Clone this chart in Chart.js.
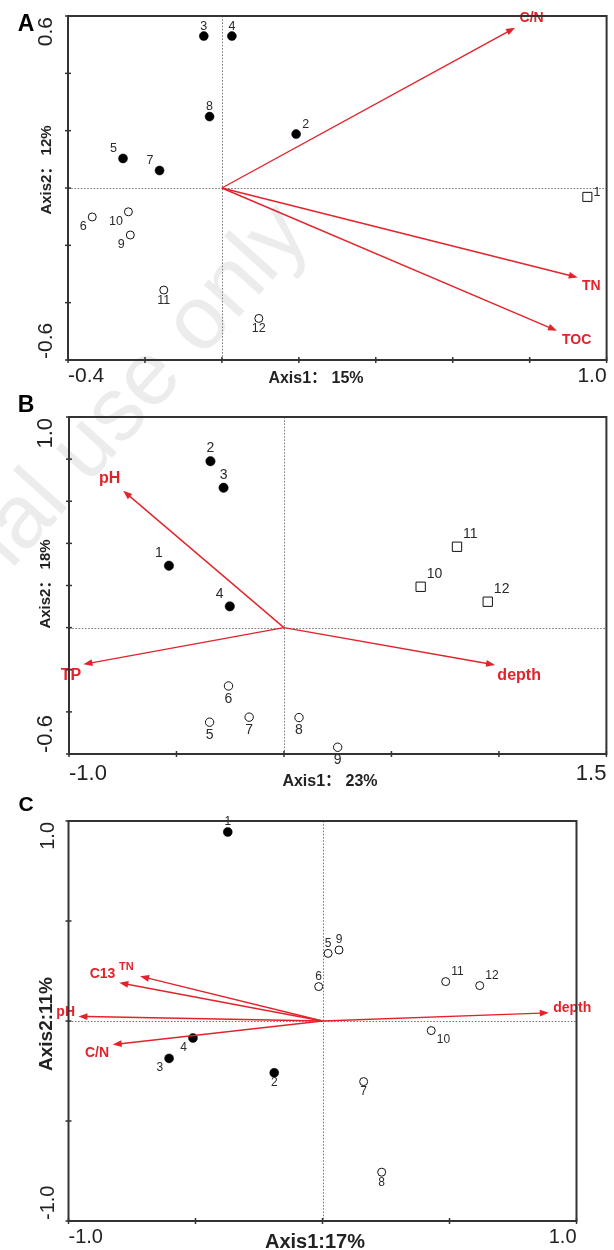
<!DOCTYPE html>
<html><head><meta charset="utf-8">
<script src="https://cdn.jsdelivr.net/npm/chart.js@4.4.0/dist/chart.umd.min.js"></script>
<style>
html,body{margin:0;padding:0;background:#fff;}
body{width:614px;height:1250px;position:relative;overflow:hidden;font-family:"Liberation Sans",Arial,sans-serif;}
canvas{position:absolute;left:0;z-index:1;}
#wm{position:absolute;z-index:0;left:312px;top:236px;transform-origin:0 0;transform:rotate(-48deg) translate(-100%,-84.6%);white-space:nowrap;font:90px "Liberation Sans",Arial,sans-serif;color:#ececec;pointer-events:none;line-height:1;}
</style></head><body>
<div id="wm">For personal use only</div>
<canvas id="cA" width="614" height="390" style="top:0"></canvas>
<canvas id="cB" width="614" height="400" style="top:390px"></canvas>
<canvas id="cC" width="614" height="460" style="top:790px"></canvas>
<script>
// ---------- Panel A data ----------
const A_ids = ['1','2','3','4','5','6','7','8','9','10','11','12'];
const A_x = [0.950, 0.193, -0.047, 0.026, -0.257, -0.337, -0.162, -0.032, -0.238, -0.243, -0.151, 0.096];
const A_y = [-0.031, 0.188, 0.530, 0.530, 0.103, -0.101, 0.061, 0.249, -0.164, -0.083, -0.356, -0.455];
const A_type = ['square','filled','filled','filled','filled','open','filled','filled','open','open','open','open'];
const A_labelPos = ['rt','tr','t','t','tl','bl','tl','t','bl','bl','b','b'];
const A_vecNames = ['C/N','TN','TOC'];
const A_vecX = [0.762, 0.925, 0.871];
const A_vecY = [0.559, -0.312, -0.498];
const A_vecLabelX = [0.805, 0.960, 0.922];
const A_vecLabelY = [0.591, -0.344, -0.530];
const A_xTickVals = [-0.4, -0.2, 0.0, 0.2, 0.4, 0.6, 0.8, 1.0];
const A_yTickVals = [-0.6, -0.4, -0.2, 0.0, 0.2, 0.4, 0.6];
const A_xEndLabels = ['-0.4','1.0'];
const A_yEndLabels = ['-0.6','0.6'];
const A_xTitle = 'Axis1\uFF1A 15%';
const A_yTitle = 'Axis2\uFF1A 12%';

// ---------- Panel B data ----------
const B_ids = ['1','2','3','4','5','6','7','8','9','10','11','12'];
const B_x = [-0.535, -0.342, -0.281, -0.252, -0.346, -0.258, -0.162, 0.070, 0.250, 0.636, 0.805, 0.948];
const B_y = [0.294, 0.790, 0.664, 0.101, -0.449, -0.277, -0.425, -0.427, -0.568, 0.194, 0.384, 0.123];
const B_type = ['filled','filled','filled','filled','open','open','open','open','open','square','square','square'];
const B_labelPos = ['tl','t','t','tl','b','b','b','b','b','tr','tr','tr'];
const B_vecNames = ['pH','TP','depth'];
const B_vecX = [-0.748, -0.933, 0.982];
const B_vecY = [0.650, -0.174, -0.177];
const B_vecLabelX = [-0.811, -0.991, 1.094];
const B_vecLabelY = [0.708, -0.229, -0.229];
const B_xTickVals = [-1.0, -0.5, 0.0, 0.5, 1.0, 1.5];
const B_yTickVals = [-0.6, -0.4, -0.2, 0.0, 0.2, 0.4, 0.6, 0.8, 1.0];
const B_xEndLabels = ['-1.0','1.5'];
const B_yEndLabels = ['-0.6','1.0'];
const B_xTitle = 'Axis1\uFF1A 23%';
const B_yTitle = 'Axis2\uFF1A 18%';

// ---------- Panel C data ----------
const C_ids = ['1','2','3','4','5','6','7','8','9','10','11','12'];
const C_x = [-0.373, -0.190, -0.604, -0.510, 0.022, -0.015, 0.162, 0.233, 0.065, 0.428, 0.485, 0.619];
const C_y = [0.945, -0.259, -0.187, -0.085, 0.338, 0.172, -0.303, -0.756, 0.355, -0.048, 0.197, 0.177];
const C_type = ['filled','filled','filled','filled','open','open','open','open','open','open','open','open'];
const C_labelPos = ['t','b','bl','bl','t','t','b','b','t','br','tr','tr'];
const C_vecNames = ['C13','TN','pH','C/N','depth'];
const C_vecX = [-0.800, -0.718, -0.961, -0.826, 0.891];
const C_vecY = [0.191, 0.224, 0.023, -0.118, 0.041];
const C_vecLabelX = [-0.866, -0.772, -1.011, -0.888, 0.983];
const C_vecLabelY = [0.235, 0.269, 0.045, -0.163, 0.063];
const C_xTickVals = [-1.0, -0.5, 0.0, 0.5, 1.0];
const C_yTickVals = [-1.0, -0.5, 0.0, 0.5, 1.0];
const C_xEndLabels = ['-1.0','1.0'];
const C_yEndLabels = ['-1.0','1.0'];
const C_xTitle = 'Axis1:17%';
const C_yTitle = 'Axis2:11%';

const RED = '#e2232b';
const INK = '#222';
const FONT = '"Liberation Sans", Arial, "Noto Sans CJK SC", sans-serif';

function buildDatasets(xs, ys, types, st) {
  const mk = (t) => xs.map((x, i) => ({x: x, y: ys[i], t: types[i]})).filter(p => p.t === t);
  return [
    {data: mk('filled'), pointStyle: 'circle', pointRadius: st.rFill, backgroundColor: '#000', borderColor: '#000', borderWidth: 0.5},
    {data: mk('open'), pointStyle: 'circle', pointRadius: st.rOpen, backgroundColor: '#fff', borderColor: '#111', borderWidth: 1},
    {data: mk('square'), pointStyle: 'rect', pointRadius: st.rSq, backgroundColor: '#fff', borderColor: '#111', borderWidth: 1}
  ];
}

function drawArrow(ctx, x0, y0, x1, y1) {
  const ang = Math.atan2(y1 - y0, x1 - x0);
  const L = 9, W = 3.4;
  const bx = x1 - L * Math.cos(ang), by = y1 - L * Math.sin(ang);
  ctx.strokeStyle = RED; ctx.lineWidth = 1.4;
  ctx.beginPath(); ctx.moveTo(x0, y0); ctx.lineTo(bx + Math.cos(ang), by + Math.sin(ang)); ctx.stroke();
  ctx.fillStyle = RED; ctx.beginPath();
  ctx.moveTo(x1, y1);
  ctx.lineTo(bx + W * Math.sin(ang), by - W * Math.cos(ang));
  ctx.lineTo(bx - W * Math.sin(ang), by + W * Math.cos(ang));
  ctx.closePath(); ctx.fill();
}

function makePanel(id, P) {
  const plugin = {
    id: 'biplot_' + id,
    beforeDatasetsDraw(chart) {
      const ctx = chart.ctx, a = chart.chartArea, xs = chart.scales.x, ys = chart.scales.y;
      ctx.save();
      ctx.strokeStyle = '#7a7a7a'; ctx.lineWidth = 1; ctx.setLineDash([1.6, 1.6]);
      const x0 = Math.round(xs.getPixelForValue(0)) + 0.5, y0 = Math.round(ys.getPixelForValue(0)) + 0.5;
      ctx.beginPath(); ctx.moveTo(x0, a.top); ctx.lineTo(x0, a.bottom); ctx.stroke();
      ctx.beginPath(); ctx.moveTo(a.left, y0); ctx.lineTo(a.right, y0); ctx.stroke();
      ctx.restore();
    },
    afterDatasetsDraw(chart) {
      const ctx = chart.ctx, a = chart.chartArea, xs = chart.scales.x, ys = chart.scales.y;
      ctx.save();
      const ox = xs.getPixelForValue(0), oy = ys.getPixelForValue(0);
      P.vecNames.forEach((n, i) => {
        drawArrow(ctx, ox, oy, xs.getPixelForValue(P.vecX[i]), ys.getPixelForValue(P.vecY[i]));
      });
      ctx.fillStyle = RED; ctx.textAlign = 'center'; ctx.textBaseline = 'middle';
      P.vecNames.forEach((n, i) => {
        const fs = (P.vecFontSizes && P.vecFontSizes[i]) || P.vecFont;
        ctx.font = P.vecWeight + ' ' + fs + 'px ' + FONT;
        ctx.fillText(n, xs.getPixelForValue(P.vecLabelX[i]), ys.getPixelForValue(P.vecLabelY[i]));
      });
      ctx.fillStyle = '#2a2a2a'; ctx.font = P.ptFont + 'px ' + FONT;
      P.ids.forEach((lab, i) => {
        const px = xs.getPixelForValue(P.x[i]), py = ys.getPixelForValue(P.y[i]);
        const w = ctx.measureText(lab).width;
        const r = P.types[i] === 'filled' ? P.st.rFill : (P.types[i] === 'open' ? P.st.rOpen : 4.6);
        const d = P.labDy, hx = r + 1.5 + w / 2;
        let dx = 0, dy = 0;
        switch (P.labelPos[i]) {
          case 't': dy = -d; break;
          case 'b': dy = d; break;
          case 'tr': dx = hx; dy = -d * 0.95; break;
          case 'tl': dx = -hx; dy = -d * 0.95; break;
          case 'br': dx = hx; dy = d * 0.95; break;
          case 'bl': dx = -hx; dy = d * 0.95; break;
          case 'rt': dx = hx; dy = -4; break;
        }
        ctx.fillText(lab, px + dx, py + dy);
      });
      ctx.strokeStyle = '#333'; ctx.lineWidth = 2; ctx.setLineDash([]);
      ctx.strokeRect(a.left, a.top, a.right - a.left, a.bottom - a.top);
      ctx.lineWidth = 1.5;
      P.xTickVals.forEach(v => {
        const x = xs.getPixelForValue(v);
        ctx.beginPath(); ctx.moveTo(x, a.bottom - 3); ctx.lineTo(x, a.bottom + 3); ctx.stroke();
      });
      P.yTickVals.forEach(v => {
        const y = ys.getPixelForValue(v);
        ctx.beginPath(); ctx.moveTo(a.left - 3, y); ctx.lineTo(a.left + 3, y); ctx.stroke();
      });
      ctx.fillStyle = INK; ctx.font = P.tickFont + 'px ' + FONT; ctx.textBaseline = 'middle';
      ctx.textAlign = 'left';
      ctx.fillText(P.xEndLabels[0], xs.getPixelForValue(xs.min), a.bottom + P.xTickDy);
      ctx.textAlign = 'right';
      ctx.fillText(P.xEndLabels[1], xs.getPixelForValue(xs.max), a.bottom + P.xTickDy);
      ctx.save(); ctx.translate(P.yTickX, ys.getPixelForValue(ys.min) - 1); ctx.rotate(-Math.PI / 2);
      ctx.textAlign = 'left'; ctx.fillText(P.yEndLabels[0], 0, 0); ctx.restore();
      ctx.save(); ctx.translate(P.yTickX, ys.getPixelForValue(ys.max) + 1); ctx.rotate(-Math.PI / 2);
      ctx.textAlign = 'right'; ctx.fillText(P.yEndLabels[1], 0, 0); ctx.restore();
      ctx.font = 'bold ' + P.titleFont + 'px ' + FONT; ctx.textAlign = 'center';
      ctx.fillText(P.xTitle, P.xTitleX, a.bottom + P.xTitleDy);
      ctx.save(); ctx.translate(P.yTitleX, P.yTitleY); ctx.rotate(-Math.PI / 2);
      ctx.font = 'bold ' + (P.yTitleFont || P.titleFont) + 'px ' + FONT;
      ctx.fillText(P.yTitle, 0, 0); ctx.restore();
      ctx.font = 'bold ' + P.letterFont + 'px ' + FONT; ctx.fillStyle = '#000';
      ctx.fillText(P.letter, 26, P.letterY);
      ctx.restore();
    }
  };
  return new Chart(document.getElementById(id), {
    type: 'scatter',
    data: {datasets: buildDatasets(P.x, P.y, P.types, P.st)},
    options: {
      responsive: false, animation: false, events: [],
      layout: {padding: P.pad},
      scales: {
        x: {type: 'linear', min: P.xMin, max: P.xMax, display: false},
        y: {type: 'linear', min: P.yMin, max: P.yMax, display: false}
      },
      plugins: {legend: {display: false}, tooltip: {enabled: false}}
    },
    plugins: [plugin]
  });
}

makePanel('cA', {
  letter: 'A', letterFont: 23, letterY: 25,
  ids: A_ids, x: A_x, y: A_y, types: A_type, labelPos: A_labelPos,
  vecNames: A_vecNames, vecX: A_vecX, vecY: A_vecY, vecLabelX: A_vecLabelX, vecLabelY: A_vecLabelY,
  vecFont: 14, vecWeight: 'bold',
  xTickVals: A_xTickVals, yTickVals: A_yTickVals, xEndLabels: A_xEndLabels, yEndLabels: A_yEndLabels,
  xTitle: A_xTitle, yTitle: A_yTitle,
  xMin: -0.4, xMax: 1.0, yMin: -0.6, yMax: 0.6,
  pad: {left: 68, right: 5, top: 16, bottom: 30},
  st: {rFill: 4.5, rOpen: 4, rSq: 6.4}, ptFont: 12.5, labDy: 10,
  tickFont: 21, xTickDy: 16, yTickX: 46, titleFont: 16, yTitleFont: 15, xTitleX: 316, xTitleDy: 19, yTitleX: 47, yTitleY: 170
});
makePanel('cB', {
  letter: 'B', letterFont: 23, letterY: 16,
  ids: B_ids, x: B_x, y: B_y, types: B_type, labelPos: B_labelPos,
  vecNames: B_vecNames, vecX: B_vecX, vecY: B_vecY, vecLabelX: B_vecLabelX, vecLabelY: B_vecLabelY,
  vecFont: 16, vecWeight: 'bold',
  xTickVals: B_xTickVals, yTickVals: B_yTickVals, xEndLabels: B_xEndLabels, yEndLabels: B_yEndLabels,
  xTitle: B_xTitle, yTitle: B_yTitle,
  xMin: -1.0, xMax: 1.5, yMin: -0.6, yMax: 1.0,
  pad: {left: 69, right: 2, top: 27, bottom: 36},
  st: {rFill: 4.7, rOpen: 4.2, rSq: 6.6}, ptFont: 14, labDy: 13,
  tickFont: 22, xTickDy: 20, yTickX: 46, titleFont: 16, yTitleFont: 15, xTitleX: 330, xTitleDy: 28, yTitleX: 46, yTitleY: 194
});
makePanel('cC', {
  letter: 'C', letterFont: 21, letterY: 15,
  ids: C_ids, x: C_x, y: C_y, types: C_type, labelPos: C_labelPos,
  vecNames: C_vecNames, vecX: C_vecX, vecY: C_vecY, vecLabelX: C_vecLabelX, vecLabelY: C_vecLabelY,
  vecFont: 14, vecWeight: 'bold', vecFontSizes: [14, 11, 14, 14, 14],
  xTickVals: C_xTickVals, yTickVals: C_yTickVals, xEndLabels: C_xEndLabels, yEndLabels: C_yEndLabels,
  xTitle: C_xTitle, yTitle: C_yTitle,
  xMin: -1.0, xMax: 1.0, yMin: -1.0, yMax: 1.0,
  pad: {left: 68.5, right: 37.5, top: 31, bottom: 29},
  st: {rFill: 4.5, rOpen: 4, rSq: 6.4}, ptFont: 12, labDy: 10,
  tickFont: 20, xTickDy: 16, yTickX: 48, titleFont: 20, yTitleFont: 19, xTitleX: 315, xTitleDy: 21, yTitleX: 47, yTitleY: 234
});
</script>
</body></html>
